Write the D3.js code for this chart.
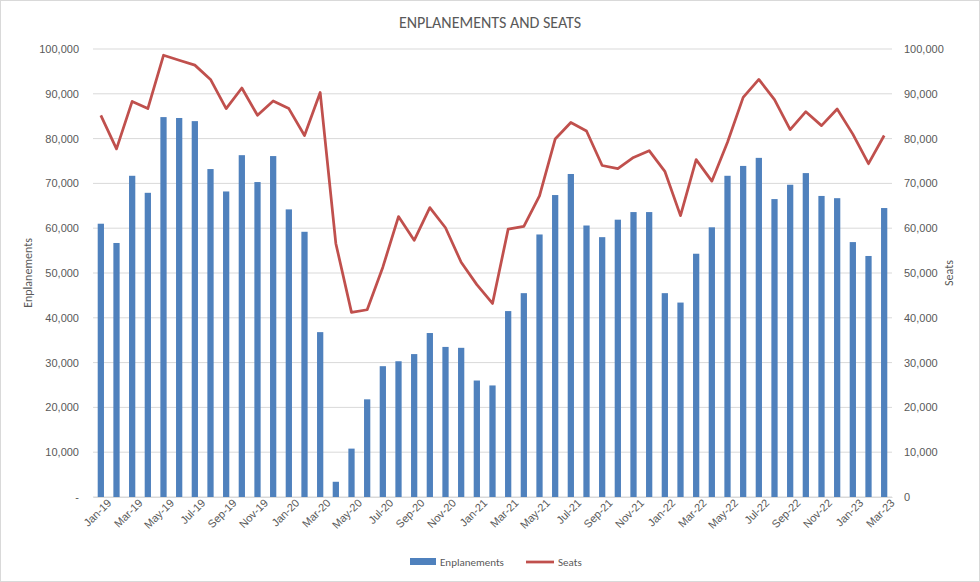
<!DOCTYPE html>
<html><head><meta charset="utf-8">
<script src="https://cdn.jsdelivr.net/npm/d3@7"></script>
<style>
body{margin:0;background:#fff;font-family:Calibri,Carlito,"Liberation Sans",Arial,sans-serif;}
</style></head>
<body><div id="chart"></div>
<script>
const months = ["Jan-19","Feb-19","Mar-19","Apr-19","May-19","Jun-19","Jul-19","Aug-19","Sep-19","Oct-19","Nov-19","Dec-19",
"Jan-20","Feb-20","Mar-20","Apr-20","May-20","Jun-20","Jul-20","Aug-20","Sep-20","Oct-20","Nov-20","Dec-20",
"Jan-21","Feb-21","Mar-21","Apr-21","May-21","Jun-21","Jul-21","Aug-21","Sep-21","Oct-21","Nov-21","Dec-21",
"Jan-22","Feb-22","Mar-22","Apr-22","May-22","Jun-22","Jul-22","Aug-22","Sep-22","Oct-22","Nov-22","Dec-22",
"Jan-23","Feb-23","Mar-23"];
const enplanements = [61000,56700,71700,67900,84800,84600,83900,73200,68200,76300,70300,76100,
64200,59200,36800,3400,10800,21800,29200,30300,31900,36600,33500,33300,
26000,24900,41500,45500,58600,67400,72100,60600,58000,61900,63600,63600,
45500,43400,54300,60200,71700,73900,75700,66500,69700,72300,67200,66700,
56900,53800,64500];
const seats = [85200,77700,88300,86700,98600,97500,96400,93200,86700,91300,85200,88400,
86700,80700,90300,56600,41200,41800,51300,62600,57300,64600,60100,52400,
47400,43200,59800,60400,67200,79900,83600,81700,74000,73300,75800,77300,
72700,62800,75300,70500,79200,89200,93200,88700,82000,86000,82900,86600,
81000,74400,80700];
const yTicks = [0,10000,20000,30000,40000,50000,60000,70000,80000,90000,100000];

const W = 980, H = 582;
const m = {left: 93, right: 88, top: 49, bottom: 85};
const fmt = d => d === 0 ? "-" : d3.format(",")(d);

const svg = d3.select("#chart").append("svg").attr("width", W).attr("height", H);
svg.append("rect").attr("x",0.5).attr("y",0.5).attr("width",W-1).attr("height",H-1)
  .attr("fill","#fff").attr("stroke","#d9d9d9");

const x = d3.scaleBand().domain(months).range([m.left, W - m.right]).paddingInner(0.6).paddingOuter(0.3);
const y = d3.scaleLinear().domain([0,100000]).range([H - m.bottom, m.top]);

// grid
svg.append("g").selectAll("line").data(yTicks).join("line")
  .attr("x1", m.left).attr("x2", W - m.right)
  .attr("y1", d => y(d)).attr("y2", d => y(d))
  .attr("stroke", "#d9d9d9");

// left axis
const left = svg.append("g").attr("transform", `translate(${m.left},0)`)
  .call(d3.axisLeft(y).tickValues(yTicks).tickFormat(fmt).tickSize(0).tickPadding(14));
left.select(".domain").remove();
const right = svg.append("g").attr("transform", `translate(${W - m.right},0)`)
  .call(d3.axisRight(y).tickValues(yTicks).tickFormat(d => d3.format(",")(d)).tickSize(0).tickPadding(12));
right.select(".domain").remove();
svg.selectAll(".tick text").attr("fill","#595959").style("font-size","11px").style("font-family","inherit");

// bottom axis
const bottom = svg.append("g").attr("transform", `translate(0,${H - m.bottom})`)
  .call(d3.axisBottom(x).tickValues(months.filter((d,i) => i % 2 === 0)).tickSize(0).tickPadding(6));
bottom.select(".domain").attr("stroke","#d9d9d9");
bottom.selectAll("text").attr("fill","#595959").style("font-size","11px").style("font-family","inherit")
  .attr("text-anchor","end").attr("dx","0.3em").attr("dy","0.6em")
  .attr("transform","rotate(-45)");

// bars
svg.append("g").selectAll("rect").data(months).join("rect")
  .attr("x", d => x(d)).attr("width", x.bandwidth())
  .attr("y", (d,i) => y(enplanements[i])).attr("height", (d,i) => y(0) - y(enplanements[i]))
  .attr("fill", "#4f81bd");

// line
const line = d3.line().x((d,i) => x(months[i]) + x.bandwidth()/2).y(d => y(d));
svg.append("path").datum(seats).attr("d", line).attr("fill","none")
  .attr("stroke","#c0504d").attr("stroke-width",2.75).attr("stroke-linejoin","round");

// titles
svg.append("text").attr("x", W/2).attr("y", 28).attr("text-anchor","middle")
  .attr("fill","#595959").style("font-size","16px").text("ENPLANEMENTS AND SEATS");
svg.append("text").attr("transform", `translate(32,${(m.top + H - m.bottom)/2}) rotate(-90)`)
  .attr("text-anchor","middle").attr("fill","#595959").style("font-size","12px").text("Enplanements");
svg.append("text").attr("transform", `translate(953,${(m.top + H - m.bottom)/2}) rotate(-90)`)
  .attr("text-anchor","middle").attr("fill","#595959").style("font-size","12px").text("Seats");

// legend
const lg = svg.append("g").attr("transform","translate(410,562)");
lg.append("rect").attr("x",0).attr("y",-4).attr("width",26).attr("height",7).attr("fill","#4f81bd");
lg.append("text").attr("x",30).attr("y",4).attr("fill","#595959").style("font-size","11px").text("Enplanements");
lg.append("line").attr("x1",116).attr("x2",144).attr("y1",0).attr("y2",0).attr("stroke","#c0504d").attr("stroke-width",2.75);
lg.append("text").attr("x",148).attr("y",4).attr("fill","#595959").style("font-size","11px").text("Seats");
</script></body></html>
